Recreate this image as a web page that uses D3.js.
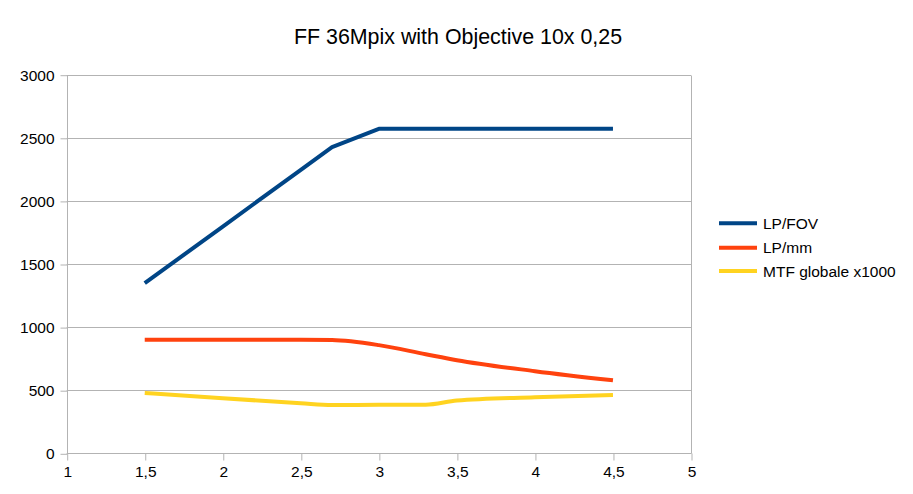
<!DOCTYPE html>
<html>
<head>
<meta charset="utf-8">
<script src="https://cdn.jsdelivr.net/npm/d3@7/dist/d3.min.js"></script>
<style>
  html, body { margin: 0; padding: 0; background: #fff; }
  svg { display: block; font-family: "Liberation Sans", Arial, sans-serif; }
</style>
</head>
<body>
<svg id="chart" width="913" height="494"></svg>
<script>
const title = "FF 36Mpix with Objective 10x 0,25";
const xValues = [1.5, 2, 2.5, 2.7, 3, 3.3, 3.5, 4, 4.5];
const lpFov   = [1348, 1797, 2246, 2426, 2571, 2571, 2571, 2571, 2571];
const lpMm    = [899, 899, 899, 897, 857, 785, 738, 651, 578];
const mtf     = [478, 436, 397, 383, 384, 385, 418, 444, 462];
const seriesNames = ["LP/FOV", "LP/mm", "MTF globale x1000"];
const seriesColors = ["#004586", "#ff420e", "#ffd320"];
const xTicks = [1, 1.5, 2, 2.5, 3, 3.5, 4, 4.5, 5];
const yTicks = [0, 500, 1000, 1500, 2000, 2500, 3000];

const svg = d3.select("#chart");
const pL = 66.7, pR = 691, pT = 74.7, pB = 453.3;
const x = d3.scaleLinear().domain([1, 5]).range([pL, pR]);
const y = d3.scaleLinear().domain([0, 3000]).range([pB, pT]);
const fmt = d => String(d).replace(".", ",");
const grid = "#b3b3b3";

// title
svg.append("text").attr("x", 458).attr("y", 44)
  .attr("text-anchor", "middle").attr("font-size", 21.4).attr("fill", "#000")
  .text(title);

// horizontal gridlines
svg.append("g").selectAll("line").data(yTicks).join("line")
  .attr("x1", pL).attr("x2", pR)
  .attr("y1", d => Math.round(y(d)) + 0.5).attr("y2", d => Math.round(y(d)) + 0.5)
  .attr("stroke", grid).attr("stroke-width", 1);

// right border of plot
svg.append("line").attr("x1", Math.round(pR) + 0.5).attr("x2", Math.round(pR) + 0.5)
  .attr("y1", Math.round(pT) + 0.5).attr("y2", Math.round(pB) + 0.5)
  .attr("stroke", grid);

// y axis
const yAxis = d3.axisLeft(y).tickValues(yTicks).tickSize(7).tickPadding(6).tickFormat(fmt);
const gy = svg.append("g").attr("transform", `translate(${Math.round(pL) + 0.5},0.5)`).call(yAxis);
gy.select(".domain").attr("stroke", grid).attr("d", `M0,${Math.round(pT)}V${Math.round(pB)}`);
gy.selectAll(".tick line").attr("stroke", grid);
gy.selectAll(".tick text").attr("font-size", 15.5).attr("fill", "#000")
  .attr("font-family", '"Liberation Sans", Arial, sans-serif');

// x axis
const xAxis = d3.axisBottom(x).tickValues(xTicks).tickSize(7).tickPadding(5).tickFormat(fmt);
const gx = svg.append("g").attr("transform", `translate(0.5,${Math.round(pB) + 0.5})`).call(xAxis);
gx.select(".domain").attr("stroke", grid).attr("d", `M${Math.round(pL)},0H${Math.round(pR)}`);
gx.selectAll(".tick line").attr("stroke", grid);
gx.selectAll(".tick text").attr("font-size", 15.5).attr("fill", "#000")
  .attr("font-family", '"Liberation Sans", Arial, sans-serif');

// series
const seriesData = [lpFov, lpMm, mtf];
const curves = [d3.curveLinear, d3.curveMonotoneX, d3.curveMonotoneX];
seriesData.forEach((vals, i) => {
  const line = d3.line().x(d => x(d[0])).y(d => y(d[1])).curve(curves[i]);
  const pts = xValues.map((xv, j) => [xv, vals[j]]);
  svg.append("path").datum(pts)
    .attr("d", line).attr("fill", "none")
    .attr("stroke", seriesColors[i]).attr("stroke-width", 4)
    .attr("stroke-linejoin", "round");
});

// legend
const legY = [223.3, 247.7, 271];
const lg = svg.append("g");
seriesNames.forEach((n, i) => {
  lg.append("line").attr("x1", 719).attr("x2", 757)
    .attr("y1", legY[i]).attr("y2", legY[i])
    .attr("stroke", seriesColors[i]).attr("stroke-width", 4);
  lg.append("text").attr("x", 763).attr("y", legY[i] + 5.5)
    .attr("font-size", 15.5).attr("fill", "#000").text(n);
});
</script>
</body>
</html>
